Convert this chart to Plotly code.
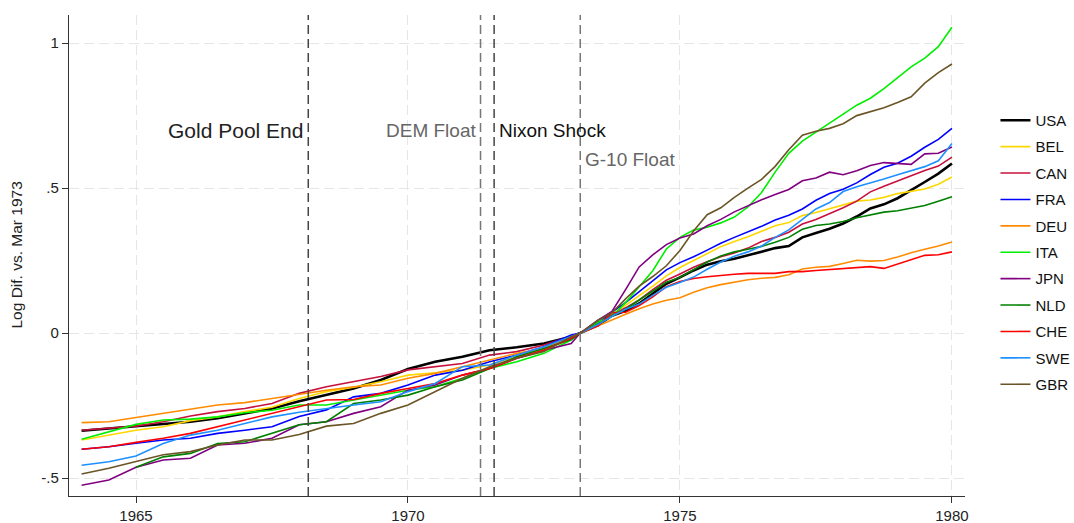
import plotly.graph_objects as go

# Decimal-year dates: half-yearly to Mar 1973 (the base month), quarterly afterwards
dates = [1964.0, 1964.5, 1965.0, 1965.5, 1966.0, 1966.5, 1967.0, 1967.5,
         1968.0, 1968.5, 1969.0, 1969.5, 1970.0, 1970.5, 1971.0, 1971.5,
         1972.0, 1972.5, 1973.0, 1973.1667,
         1973.5, 1973.75,
         1974.0, 1974.25, 1974.5, 1974.75, 1975.0, 1975.25, 1975.5, 1975.75,
         1976.0, 1976.25, 1976.5, 1976.75, 1977.0, 1977.25, 1977.5, 1977.75,
         1978.0, 1978.25, 1978.5, 1978.75, 1979.0, 1979.25, 1979.5, 1979.75,
         1980.0]

# Log difference of the price level vs. Mar 1973
usa = [-0.337, -0.329, -0.321, -0.312, -0.306, -0.294, -0.277, -0.260, -0.235, -0.214,
       -0.191, -0.162, -0.124, -0.099, -0.082, -0.059, -0.049, -0.036, -0.013, 0.0,
       0.028, 0.060, 0.077, 0.102, 0.137, 0.170, 0.192, 0.216, 0.236, 0.248,
       0.256, 0.268, 0.281, 0.293, 0.300, 0.330, 0.345, 0.360, 0.378, 0.402,
       0.430, 0.444, 0.465, 0.492, 0.521, 0.550, 0.585]
bel = [-0.369, -0.352, -0.335, -0.323, -0.302, -0.289, -0.271, -0.256, -0.226, -0.202,
       -0.187, -0.168, -0.145, -0.137, -0.128, -0.110, -0.082, -0.053, -0.013, 0.0,
       0.030, 0.063, 0.093, 0.128, 0.162, 0.197, 0.226, 0.250, 0.274, 0.298,
       0.316, 0.332, 0.351, 0.370, 0.381, 0.405, 0.416, 0.429, 0.442, 0.455,
       0.459, 0.468, 0.481, 0.490, 0.497, 0.513, 0.538]
can = [-0.335, -0.329, -0.321, -0.306, -0.286, -0.271, -0.260, -0.243, -0.208, -0.185,
       -0.168, -0.150, -0.127, -0.116, -0.105, -0.076, -0.064, -0.041, -0.010, 0.0,
       0.030, 0.062, 0.087, 0.114, 0.150, 0.182, 0.204, 0.227, 0.246, 0.263,
       0.276, 0.293, 0.316, 0.330, 0.348, 0.376, 0.392, 0.412, 0.432, 0.455,
       0.487, 0.506, 0.525, 0.544, 0.561, 0.576, 0.607]
fra = [-0.401, -0.392, -0.380, -0.369, -0.363, -0.346, -0.335, -0.323, -0.288, -0.265,
       -0.220, -0.208, -0.179, -0.145, -0.128, -0.099, -0.076, -0.047, -0.007, 0.0,
       0.035, 0.072, 0.105, 0.143, 0.183, 0.218, 0.243, 0.263, 0.286, 0.310,
       0.330, 0.349, 0.368, 0.390, 0.406, 0.428, 0.458, 0.481, 0.496, 0.518,
       0.547, 0.572, 0.586, 0.610, 0.641, 0.668, 0.706]
deu = [-0.309, -0.306, -0.291, -0.277, -0.263, -0.248, -0.240, -0.225, -0.211, -0.197,
       -0.185, -0.179, -0.156, -0.139, -0.116, -0.093, -0.070, -0.053, -0.013, 0.0,
       0.025, 0.046, 0.065, 0.084, 0.100, 0.113, 0.122, 0.141, 0.156, 0.167,
       0.176, 0.184, 0.189, 0.192, 0.201, 0.221, 0.227, 0.230, 0.240, 0.251,
       0.248, 0.250, 0.262, 0.277, 0.289, 0.300, 0.314]
ita = [-0.366, -0.341, -0.315, -0.300, -0.297, -0.289, -0.275, -0.266, -0.248, -0.248,
       -0.231, -0.214, -0.197, -0.185, -0.156, -0.122, -0.099, -0.070, -0.024, 0.0,
       0.038, 0.058, 0.105, 0.160, 0.215, 0.290, 0.330, 0.355, 0.365, 0.380,
       0.400, 0.435, 0.485, 0.555, 0.620, 0.662, 0.692, 0.722, 0.755, 0.786,
       0.810, 0.843, 0.882, 0.918, 0.948, 0.988, 1.055]
jpn = [-0.525, -0.507, -0.463, -0.438, -0.432, -0.386, -0.380, -0.363, -0.316, -0.306,
       -0.277, -0.254, -0.197, -0.179, -0.145, -0.122, -0.087, -0.059, -0.036, 0.0,
       0.045, 0.075, 0.150, 0.228, 0.270, 0.305, 0.328, 0.342, 0.370, 0.392,
       0.418, 0.440, 0.460, 0.478, 0.495, 0.525, 0.535, 0.555, 0.546, 0.560,
       0.578, 0.588, 0.584, 0.582, 0.618, 0.620, 0.642]
nld = [None, None, -0.463, -0.427, -0.415, -0.381, -0.375, -0.346, -0.316, -0.306,
       -0.243, -0.231, -0.214, -0.185, -0.162, -0.122, -0.082, -0.053, -0.022, 0.0,
       0.030, 0.060, 0.082, 0.114, 0.145, 0.175, 0.192, 0.220, 0.245, 0.266,
       0.280, 0.289, 0.299, 0.313, 0.330, 0.358, 0.371, 0.376, 0.385, 0.398,
       0.407, 0.417, 0.422, 0.430, 0.440, 0.455, 0.470]
che = [-0.401, -0.392, -0.377, -0.363, -0.346, -0.323, -0.302, -0.277, -0.254, -0.231,
       -0.229, -0.208, -0.191, -0.174, -0.145, -0.122, -0.087, -0.059, -0.018, 0.0,
       0.025, 0.070, 0.072, 0.095, 0.125, 0.160, 0.178, 0.188, 0.194, 0.199,
       0.203, 0.206, 0.205, 0.206, 0.212, 0.212, 0.216, 0.219, 0.222, 0.226,
       0.229, 0.223, 0.238, 0.252, 0.268, 0.270, 0.280]
swe = [-0.456, -0.444, -0.424, -0.381, -0.352, -0.335, -0.312, -0.289, -0.273, -0.260,
       -0.248, -0.237, -0.202, -0.174, -0.116, -0.110, -0.076, -0.047, -0.013, 0.0,
       0.030, 0.058, 0.082, 0.100, 0.130, 0.158, 0.174, 0.193, 0.220, 0.245,
       0.265, 0.280, 0.300, 0.330, 0.356, 0.393, 0.428, 0.450, 0.488, 0.505,
       0.517, 0.531, 0.546, 0.560, 0.574, 0.594, 0.654]
gbr = [-0.486, -0.466, -0.443, -0.420, -0.409, -0.386, -0.369, -0.369, -0.350, -0.321,
       -0.312, -0.277, -0.248, -0.202, -0.156, -0.116, -0.087, -0.064, -0.013, 0.0,
       0.045, 0.070, 0.118, 0.162, 0.195, 0.232, 0.285, 0.352, 0.408, 0.432,
       0.468, 0.500, 0.530, 0.575, 0.632, 0.682, 0.696, 0.706, 0.722, 0.750,
       0.763, 0.777, 0.795, 0.815, 0.862, 0.898, 0.928]

countries = ["USA", "BEL", "CAN", "FRA", "DEU", "ITA", "JPN", "NLD", "CHE", "SWE", "GBR"]
series = [usa, bel, can, fra, deu, ita, jpn, nld, che, swe, gbr]
colors = ["#000000", "#FFD700", "#C8103C", "#0000FF", "#FF8C00", "#00EE00",
          "#800080", "#008000", "#FF0000", "#1E90FF", "#6B5526"]

# Policy events marked on the chart
event_labels = ["Gold Pool End", "DEM Float", "Nixon Shock", "G-10 Float"]
event_dates = [1968.1667, 1971.3333, 1971.5833, 1973.1667]

x_tick_vals = [1965, 1970, 1975, 1980]
y_tick_vals = [-0.5, 0, 0.5, 1]
y_tick_text = ["-.5", "0", ".5", "1"]

FONT = "Liberation Sans, Arial, Helvetica, sans-serif"

fig = go.Figure()
for name, vals, col in zip(countries, series, colors):
    fig.add_trace(go.Scatter(
        x=dates, y=vals, mode="lines", name=name, legendgroup=name,
        line=dict(color=col, width=2.6 if name == "USA" else 1.6),
        connectgaps=False,
    ))

# Vertical event lines
event_line_colors = ["#444444", "#777777", "#444444", "#777777"]
for xd, lc in zip(event_dates, event_line_colors):
    fig.add_shape(type="line", xref="x", yref="paper", x0=xd, x1=xd, y0=0, y1=1,
                  line=dict(color=lc, width=1.5, dash="9px,5px"), layer="above")

# Event labels
label_specs = [
    dict(anchor="right", shift=-3, y=0.697, size=21, color="#222222"),
    dict(anchor="right", shift=-3, y=0.697, size=19, color="#666666"),
    dict(anchor="left", shift=3, y=0.697, size=19, color="#111111"),
    dict(anchor="left", shift=3, y=0.600, size=19, color="#666666"),
]
for text, xd, spec in zip(event_labels, event_dates, label_specs):
    fig.add_annotation(x=xd, y=spec["y"], xref="x", yref="y", text=text,
                       showarrow=False, xanchor=spec["anchor"], yanchor="middle",
                       xshift=spec["shift"],
                       font=dict(family=FONT, size=spec["size"], color=spec["color"]))

# Y-axis title
fig.add_annotation(x=-53 / 896, y=0.5, xref="paper", yref="paper",
                   text="Log Dif. vs. Mar 1973", textangle=-90, showarrow=False,
                   xanchor="center", yanchor="middle",
                   font=dict(family=FONT, size=15.5, color="#222222"))

fig.update_layout(
    width=1074, height=523,
    margin=dict(l=69, r=109, t=15, b=27, autoexpand=False),
    paper_bgcolor="white", plot_bgcolor="white",
    font=dict(family=FONT, size=15, color="#222222"),
    showlegend=True,
    legend=dict(x=1.034, xanchor="left", y=0.815, yanchor="top",
                font=dict(family=FONT, size=15, color="#111111"),
                tracegroupgap=3.9, bgcolor="rgba(0,0,0,0)"),
    xaxis=dict(range=[1963.768, 1980.24], tickvals=x_tick_vals, automargin=False,
               showgrid=True, gridcolor="#E6E6E6", gridwidth=1.2, griddash="10px,5px",
               zeroline=False, showline=True, linecolor="#333333", linewidth=1.3,
               ticks="outside", ticklen=6, tickcolor="#333333",
               tickfont=dict(family=FONT, size=15, color="#222222")),
    yaxis=dict(range=[-0.562, 1.097], tickvals=y_tick_vals, ticktext=y_tick_text,
               automargin=False,
               showgrid=True, gridcolor="#E6E6E6", gridwidth=1.2, griddash="10px,5px",
               zeroline=False, showline=True, linecolor="#333333", linewidth=1.3,
               ticks="outside", ticklen=6, tickcolor="#333333",
               tickfont=dict(family=FONT, size=15, color="#222222")),
)

fig.write_html("out.html")
